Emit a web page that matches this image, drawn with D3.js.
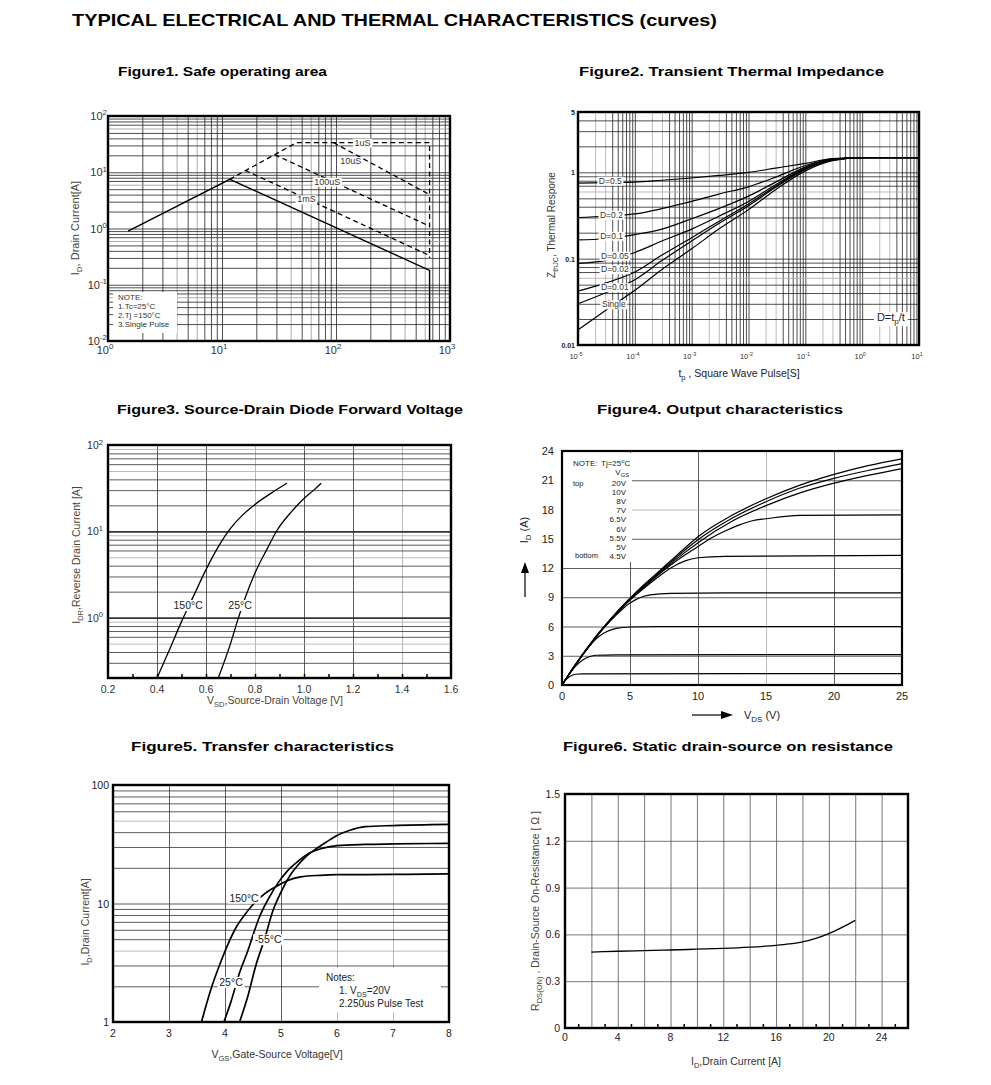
<!DOCTYPE html>
<html><head><meta charset="utf-8">
<script src="https://cdn.jsdelivr.net/npm/d3@7"></script>
<style>body{margin:0;background:#fff}</style>
</head><body>
<svg id="c" width="991" height="1085"></svg>
<script>
// ================= DATA =================
// Figure 1: Safe operating area (x: VDS [V], y: ID [A])
const f1_dc    = [[1.5,0.9],[11.7,7.5],[662,0.18],[662,0.01]];
const f1_1us   = [[11.7,7.5],[45,33.6],[662,33.6],[662,0.3]];
const f1_10us  = [[95,33.6],[662,4.0]];
const f1_100us = [[29,20.5],[662,1.1]];
const f1_1ms   = [[16,10.8],[662,0.33]];
const f1Labels = [["1uS",171,33.6],["10uS",135,15.8],["100uS",84,6.8],["1mS",55,3.3]];
const f1XTickVals = [1,10,100,1000];
const f1XTickLabels = [["10","0"],["10","1"],["10","2"],["10","3"]];
const f1YTickVals = [0.01,0.1,1,10,100];
const f1YTickLabels = [["10","-2"],["10","-1"],["10","0"],["10","1"],["10","2"]];
const f1Note = ["NOTE:"," 1.Tc=25°C"," 2.Tj =150°C"," 3.Single Pulse"];

// Figure 2: Transient thermal impedance (x: tp [s], y: Zth)
const f2_t = [1e-5,3e-5,1e-4,3e-4,1e-3,3e-3,1e-2,3e-2,0.1,0.3,1,10];
const f2_D05  = [0.75,0.76,0.77,0.81,0.86,0.92,1.0,1.12,1.27,1.44,1.48,1.48];
const f2_D02  = [0.30,0.31,0.33,0.38,0.46,0.56,0.68,0.88,1.2,1.42,1.48,1.48];
const f2_D01  = [0.165,0.17,0.19,0.22,0.29,0.38,0.53,0.77,1.15,1.41,1.48,1.48];
const f2_D005 = [0.088,0.095,0.118,0.16,0.22,0.31,0.46,0.72,1.12,1.40,1.48,1.48];
const f2_D002 = [0.042,0.052,0.07,0.11,0.175,0.27,0.43,0.69,1.1,1.39,1.48,1.48];
const f2_D001 = [0.030,0.040,0.057,0.095,0.16,0.255,0.41,0.67,1.08,1.38,1.48,1.48];
const f2_Single = [0.015,0.025,0.043,0.075,0.13,0.22,0.37,0.63,1.04,1.37,1.48,1.48];
const f2Labels = [["D=0.5",3.7e-5,0.80],["D=0.2",3.87e-5,0.322],["D=0.1",3.9e-5,0.184],["D=0.05",4.45e-5,0.108],["D=0.02",4.45e-5,0.0755],["D=0.01",4.45e-5,0.0467],["Single",4.27e-5,0.0296]];
const f2XTickVals = [1e-5,1e-4,1e-3,1e-2,1e-1,1,10];
const f2XTickLabels = [["10","-5"],["10","-4"],["10","-3"],["10","-2"],["10","-1"],["10","0"],["10","1"]];
const f2YTickVals = [0.01,0.1,1,5];
const f2YTickLabels = ["0.01","0.1","1","5"];

// Figure 3: Source-drain diode forward voltage (x: VSD [V], y: IDR [A])
const f3_150 = [[0.40,0.2],[0.45,0.42],[0.50,0.9],[0.55,1.8],[0.60,3.6],[0.65,6.6],[0.70,10.8],[0.75,15.5],[0.80,20.5],[0.86,27],[0.93,36]];
const f3_25  = [[0.65,0.2],[0.70,0.5],[0.73,0.95],[0.76,1.7],[0.80,3.3],[0.85,6.3],[0.89,10.3],[0.95,17],[1.0,24],[1.04,30],[1.07,36]];
const f3Labels = [["150°C",0.527,1.4],["25°C",0.739,1.4]];
const f3XTickVals = [0.2,0.4,0.6,0.8,1.0,1.2,1.4,1.6];
const f3XTickLabels = ["0.2","0.4","0.6","0.8","1.0","1.2","1.4","1.6"];
const f3YTickVals = [1,10,100];
const f3YTickLabels = [["10","0"],["10","1"],["10","2"]];

// Figure 4: Output characteristics (x: VDS [V], y: ID [A])
const f4_20V = [[0,0],[1,2.15],[2,4.1],[3,5.85],[4,7.45],[5,8.9],[6,10.25],[7,11.5],[8,12.75],[9,14.0],[10,15.2],[12.5,17.4],[15,19.1],[17.5,20.5],[20,21.6],[22.5,22.5],[25,23.2]];
const f4_10V = [[0,0],[1,2.1],[2,4.05],[3,5.8],[4,7.4],[5,8.85],[6,10.15],[7,11.4],[8,12.6],[9,13.8],[10,14.9],[12.5,17.1],[15,18.8],[17.5,20.2],[20,21.2],[22.5,22.0],[25,22.7]];
const f4_8V  = [[0,0],[1,2.1],[2,4.0],[3,5.75],[4,7.35],[5,8.8],[6,10.1],[7,11.3],[8,12.45],[9,13.55],[10,14.6],[12.5,16.8],[15,18.4],[17.5,19.7],[20,20.7],[22.5,21.5],[25,22.2]];
const f4_7V  = [[0,0],[1,2.1],[2,4.0],[3,5.75],[4,7.3],[5,8.75],[6,10.0],[7,11.2],[8,12.3],[9,13.3],[10,14.2],[11,15.1],[12,15.8],[13,16.4],[14,16.85],[15,17.05],[17.5,17.4],[25,17.45]];
const f4_65V = [[0,0],[1,2.1],[2,4.0],[3,5.75],[4,7.3],[5,8.7],[6,9.9],[7,11.0],[8,12.0],[9,12.7],[10,13.05],[12,13.2],[25,13.3]];
const f4_6V  = [[0,0],[1,2.1],[2,4.0],[3,5.75],[4,7.2],[5,8.4],[6,9.1],[6.5,9.25],[8,9.4],[12,9.45],[25,9.45]];
const f4_55V = [[0,0],[1,2.05],[2,3.95],[2.5,4.7],[3,5.25],[3.5,5.6],[4,5.8],[5,5.95],[7,6.0],[25,6.0]];
const f4_5V  = [[0,0],[0.5,1.05],[1,1.95],[1.5,2.55],[2,2.9],[2.5,3.05],[4,3.1],[25,3.12]];
const f4_45V = [[0,0],[0.3,0.55],[0.6,0.9],[1,1.1],[1.5,1.15],[25,1.17]];
const f4Vgs = ["20V","10V","8V","7V","6.5V","6V","5.5V","5V","4.5V"];
const f4XTickVals = [0,5,10,15,20,25];
const f4YTickVals = [0,3,6,9,12,15,18,21,24];

// Figure 5: Transfer characteristics (x: VGS [V], y: ID [A])
const f5_150 = [[3.58,1],[3.75,1.9],[3.9,3.0],[4.05,4.5],[4.2,6.3],[4.35,8.0],[4.5,9.8],[4.7,12],[4.9,13.8],[5.1,15.5],[5.35,16.8],[5.7,17.3],[6,17.5],[7,17.6],[8,17.8]];
const f5_25  = [[3.98,1],[4.1,1.45],[4.26,2.6],[4.4,3.9],[4.62,7.8],[4.8,11.5],[4.95,15],[5.1,18.5],[5.27,22],[5.5,26.5],[5.75,29.3],[6.0,30.8],[6.5,31.5],[7,31.8],[8,32.2]];
const f5_m55 = [[4.26,1],[4.4,1.6],[4.56,3.1],[4.7,4.9],[4.86,8.8],[5.0,12.5],[5.15,16.9],[5.3,21],[5.45,25],[5.63,29],[5.81,33],[6.0,37.5],[6.23,41.5],[6.5,44.5],[7,45.5],[8,46.5]];
const f5Labels = [["150°C",4.34,11.2],["-55°C",4.77,5.0],["25°C",4.107,2.18]];
const f5XTickVals = [2,3,4,5,6,7,8];
const f5YTickVals = [1,10,100];

// Figure 6: Static drain-source on resistance (x: ID [A], y: RDS(on) [ohm])
const f6_rds = [[2,0.487],[4,0.492],[6,0.496],[8,0.5],[10,0.505],[12,0.51],[14,0.518],[16,0.53],[17,0.539],[18,0.552],[19,0.574],[20,0.605],[21,0.645],[22,0.69]];
const f6XTickVals = [0,4,8,12,16,20,24];
const f6YTickVals = [0,0.3,0.6,0.9,1.2,1.5];
const f6YTickLabels = ["0","0.3","0.6","0.9","1.2","1.5"];

// ================= DRAWING =================
const FONT = "'Liberation Sans', Arial, Helvetica, sans-serif";
const svg = d3.select('#c');
svg.append('rect').attr('width',991).attr('height',1085).attr('fill','#fff');

function txt(g, x, y, parts, o={}) {
  const fs = o.fs || 11;
  const t = g.append('text').attr('x',x).attr('y',y)
    .attr('font-family',FONT).attr('font-size',fs)
    .attr('fill',o.fill||'#222').attr('text-anchor',o.anchor||'start');
  if (o.weight) t.attr('font-weight',o.weight);
  if (o.rotate) t.attr('transform',`rotate(-90,${x},${y})`);
  if (o.len) t.attr('textLength',o.len).attr('lengthAdjust','spacingAndGlyphs');
  let shift = 0;
  (Array.isArray(parts)?parts:[parts]).forEach(p=>{
    const s = typeof p==='string' ? {t:p} : p;
    const ts = t.append('tspan').text(s.t);
    let target = 0;
    if (s.sup) target = -fs*0.42; else if (s.sub) target = fs*0.28;
    if (target-shift !== 0) ts.attr('dy', target-shift);
    shift = target;
    if (s.sup||s.sub) ts.attr('font-size', fs*0.72);
  });
  return t;
}
function boxed(g, x, y, parts, o={}, pad=1.5) {
  const t = txt(g, x, y, parts, o);
  const b = t.node().getBBox();
  g.insert('rect', ()=>t.node()).attr('x',b.x-pad).attr('y',b.y+1).attr('width',b.width+2*pad).attr('height',b.height-1).attr('fill','#fff');
  return t;
}
function logGridVals(a,b){const out=[];for(let e=a;e<b;e++)for(let k=1;k<10;k++)out.push(+(k*Math.pow(10,e)).toPrecision(6));out.push(Math.pow(10,b));return out;}
function mant(d){const e=Math.floor(Math.log10(d)+1e-9);return Math.round(d/Math.pow(10,e));}

function panel(o){
  const g = svg.append('g');
  const h = o.y1-o.y0, w = o.x1-o.x0;
  const gx = g.append('g').attr('transform',`translate(0,${o.y1})`)
    .call(d3.axisBottom(o.xs).tickValues(o.vx).tickSize(-h).tickFormat(()=>''));
  gx.select('.domain').remove();
  gx.selectAll('.tick line').attr('stroke',d=>o.cx?o.cx(d):'#333').attr('stroke-width',d=>o.wx?o.wx(d):0.8);
  const gy = g.append('g').attr('transform',`translate(${o.x0},0)`)
    .call(d3.axisLeft(o.ys).tickValues(o.vy).tickSize(-w).tickFormat(()=>''));
  gy.select('.domain').remove();
  gy.selectAll('.tick line').attr('stroke',d=>o.cy?o.cy(d):'#333').attr('stroke-width',d=>o.wy?o.wy(d):0.8);
  return g;
}
function frame(g,o,sw=2.2){
  g.append('rect').attr('x',o.x0).attr('y',o.y0).attr('width',o.x1-o.x0).attr('height',o.y1-o.y0)
   .attr('fill','none').attr('stroke','#000').attr('stroke-width',sw);
}
function curve(g, xs, ys, data, o={}){
  const line = d3.line().x(d=>xs(d[0])).y(d=>ys(d[1])).curve(o.curve||d3.curveLinear);
  g.append('path').attr('d',line(data)).attr('fill','none').attr('stroke','#000')
   .attr('stroke-width',o.sw||1.3).attr('stroke-dasharray',o.dash||null);
}

// Titles
txt(svg, 72, 26, "TYPICAL ELECTRICAL AND THERMAL CHARACTERISTICS (curves)", {fs:17, weight:'bold', fill:'#000', len:645});
txt(svg, 222.5, 76, "Figure1. Safe operating area", {fs:13.5, weight:'bold', fill:'#000', anchor:'middle', len:209});
txt(svg, 731.5, 76, "Figure2. Transient Thermal Impedance", {fs:13.5, weight:'bold', fill:'#000', anchor:'middle', len:305});
txt(svg, 290, 414, "Figure3. Source-Drain Diode Forward Voltage", {fs:13.5, weight:'bold', fill:'#000', anchor:'middle', len:346});
txt(svg, 720, 414, "Figure4. Output characteristics", {fs:13.5, weight:'bold', fill:'#000', anchor:'middle', len:246});
txt(svg, 262.5, 751, "Figure5. Transfer characteristics", {fs:13.5, weight:'bold', fill:'#000', anchor:'middle', len:263});
txt(svg, 728, 751, "Figure6. Static drain-source on resistance", {fs:13.5, weight:'bold', fill:'#000', anchor:'middle', len:330});

// ---------- Figure 1 ----------
(function(){
  const o = {x0:108,x1:450,y0:116,y1:341};
  o.xs = d3.scaleLog().domain([1,1000]).range([o.x0,o.x1]);
  o.ys = d3.scaleLog().domain([0.01,100]).range([o.y1,o.y0]);
  o.vx = logGridVals(0,3); o.vy = logGridVals(-2,2);
  o.cx = d=>([4,6].includes(mant(d))?'#999':'#222');
  o.cy = d=>([6].includes(mant(d))?'#999':'#222');
  const g = panel(o);
  const {xs,ys} = o;
  curve(g,xs,ys,f1_dc,{sw:1.4});
  curve(g,xs,ys,f1_1us,{dash:'5,3.5'});
  curve(g,xs,ys,f1_10us,{dash:'5,3.5'});
  curve(g,xs,ys,f1_100us,{dash:'5,3.5'});
  curve(g,xs,ys,f1_1ms,{dash:'5,3.5'});
  f1Labels.forEach(l=>boxed(g, xs(l[1]), ys(l[2])+3, l[0], {fs:9, anchor:'middle', fill:'#333'}));
  // note
  g.append('rect').attr('x',o.x0+5).attr('y',292).attr('width',64).attr('height',41).attr('fill','#fff');
  f1Note.forEach((s,i)=>txt(g, o.x0+10, 300+i*9, s, {fs:8, fill:'#333'}));
  frame(g,o,2.4);
  f1XTickVals.forEach((v,i)=>txt(svg, xs(v)-3, 354, [f1XTickLabels[i][0],{t:f1XTickLabels[i][1],sup:1}], {fs:11, anchor:'middle', fill:'#333'}));
  f1YTickVals.forEach((v,i)=>txt(svg, 107, ys(v)+4, [f1YTickLabels[i][0],{t:f1YTickLabels[i][1],sup:1}], {fs:11, anchor:'end', fill:'#333'}));
  txt(svg, 79, 228, ['I',{t:'D',sub:1},', Drain Current[A]'], {fs:11, rotate:true, anchor:'middle', fill:'#444'});
})();

// ---------- Figure 2 ----------
(function(){
  const o = {x0:578,x1:919,y0:112,y1:345};
  o.xs = d3.scaleLog().domain([1e-5,10]).range([o.x0,o.x1]);
  o.ys = d3.scaleLog().domain([0.01,5]).range([o.y1,o.y0]);
  o.vx = logGridVals(-5,1);
  o.vy = logGridVals(-2,0).concat([2,3,4,5]);
  o.cx = d=>([2,3].includes(mant(d))?'#aaa':'#222');
  o.cy = d=>([6].includes(mant(d))?'#aaa':'#222');
  const g = panel(o);
  const {xs,ys} = o;
  [f2_D05,f2_D02,f2_D01,f2_D005,f2_D002,f2_D001,f2_Single].forEach(s=>{
    curve(g,xs,ys,f2_t.map((t,i)=>[t,s[i]]),{curve:d3.curveMonotoneX, sw:1.2});
  });
  f2Labels.forEach(l=>boxed(g, xs(l[1]), ys(l[2])+3, l[0], {fs:8.5, anchor:'middle', fill:'#333'}));
  boxed(g, xs(3.2), ys(0.021)+4, ['D=t',{t:'p',sub:1},'/t'], {fs:11, anchor:'middle', fill:'#222'}, 3);
  frame(g,o,2.4);
  f2XTickVals.forEach((v,i)=>txt(svg, xs(v)-2, 359, [f2XTickLabels[i][0],{t:f2XTickLabels[i][1],sup:1}], {fs:7.5, anchor:'middle', fill:'#333'}));
  f2YTickVals.forEach((v,i)=>txt(svg, 575, ys(v)+3, f2YTickLabels[i], {fs:7, anchor:'end', weight:'bold', fill:'#222'}));
  txt(svg, 555, 225, ['Z',{t:'thJC',sub:1},', Thermal Respone'], {fs:10, rotate:true, anchor:'middle', fill:'#333'});
  txt(svg, 739, 377, ['t',{t:'p',sub:1},' ,  Square Wave Pulse[S]'], {fs:10.5, anchor:'middle', fill:'#222'});
})();

// ---------- Figure 3 ----------
(function(){
  const o = {x0:108,x1:451,y0:445,y1:678};
  o.xs = d3.scaleLinear().domain([0.2,1.6]).range([o.x0,o.x1]);
  o.ys = d3.scaleLog().domain([0.2,100]).range([o.y1,o.y0]);
  o.vx = [0.4,0.6,0.8,1.0,1.2,1.4];
  o.vy = logGridVals(-1,2).filter(v=>v>=0.2);
  o.cx = d=>([0.8,1.4].includes(+d.toFixed(1))?'#aaa':'#333');
  o.cy = d=>([5,9].includes(mant(d))?'#aaa':'#333');
  o.wy = d=>([1,10].includes(d)?1.6:0.8);
  const g = panel(o);
  const {xs,ys} = o;
  // minor ticks on bottom axis
  g.append('g').attr('transform',`translate(0,${o.y1})`)
    .call(d3.axisTop(xs).tickValues(d3.range(3,16).map(v=>v/10)).tickSize(4).tickFormat(()=>''))
    .call(s=>s.select('.domain').remove())
    .selectAll('line').attr('stroke','#000').attr('stroke-width',1.5);
  curve(g,xs,ys,f3_150,{curve:d3.curveMonotoneX});
  curve(g,xs,ys,f3_25,{curve:d3.curveMonotoneX});
  f3Labels.forEach(l=>boxed(g, xs(l[1]), ys(l[2])+4, l[0], {fs:10.5, anchor:'middle', fill:'#222'}));
  frame(g,o,2.4);
  f3XTickVals.forEach((v,i)=>txt(svg, xs(v), 693, f3XTickLabels[i], {fs:10.5, anchor:'middle', fill:'#333'}));
  f3YTickVals.forEach((v,i)=>txt(svg, 103, ys(v)+4, [f3YTickLabels[i][0],{t:f3YTickLabels[i][1],sup:1}], {fs:10.5, anchor:'end', fill:'#333'}));
  txt(svg, 80, 555, ['I',{t:'DR',sub:1},',Reverse Drain Current  [A]'], {fs:10.5, rotate:true, anchor:'middle', fill:'#4a4636'});
  txt(svg, 275, 704, ['V',{t:'SD',sub:1},',Source-Drain Voltage  [V]'], {fs:10.5, anchor:'middle', fill:'#4a4636'});
})();

// ---------- Figure 4 ----------
(function(){
  const o = {x0:562,x1:902,y0:451,y1:685};
  o.xs = d3.scaleLinear().domain([0,25]).range([o.x0,o.x1]);
  o.ys = d3.scaleLinear().domain([0,24]).range([o.y1,o.y0]);
  o.vx = [5,10,15,20];
  o.vy = [3,6,9,12,15,18,21];
  o.cx = d=>(d===15?'#aaa':'#333');
  o.cy = d=>(d===18?'#aaa':'#333');
  const g = panel(o);
  const {xs,ys} = o;
  [f4_20V,f4_10V,f4_8V,f4_7V,f4_65V,f4_6V,f4_55V,f4_5V,f4_45V].forEach(s=>curve(g,xs,ys,s,{curve:d3.curveMonotoneX, sw:1.2}));
  // note
  g.append('rect').attr('x',o.x0+1).attr('y',o.y0+2).attr('width',69).attr('height',109).attr('fill','#fff');
  txt(g, 573, 466, 'NOTE:', {fs:8, fill:'#222'});
  txt(g, 601, 466, ['Tj=25',{t:'o',sup:1},'C'], {fs:8, fill:'#222'});
  txt(g, 629, 475, ['V',{t:'GS',sub:1}], {fs:8, anchor:'end', fill:'#222'});
  txt(g, 573, 486, 'top', {fs:7.5, fill:'#222'});
  txt(g, 575, 558, 'bottom', {fs:7.5, fill:'#222'});
  f4Vgs.forEach((s,i)=>txt(g, 626, 486+i*9.1, s, {fs:8, anchor:'end', fill:'#222'}));
  frame(g,o,2.2);
  f4XTickVals.forEach(v=>txt(svg, xs(v), 700, String(v), {fs:11, anchor:'middle', fill:'#222'}));
  f4YTickVals.forEach(v=>txt(svg, 554, ys(v)+4, String(v), {fs:11, anchor:'end', fill:'#222'}));
  txt(svg, 528, 530, ['I',{t:'D',sub:1},' (A)'], {fs:11, rotate:true, anchor:'middle', fill:'#222'});
  // arrows
  svg.append('line').attr('x1',525).attr('y1',597).attr('x2',525).attr('y2',572).attr('stroke','#000').attr('stroke-width',1.2);
  svg.append('path').attr('d','M521,573 L525,562 L529,573 Z').attr('fill','#000');
  svg.append('line').attr('x1',692).attr('y1',715).attr('x2',722).attr('y2',715).attr('stroke','#000').attr('stroke-width',1.2);
  svg.append('path').attr('d','M721,711 L733,715 L721,719 Z').attr('fill','#000');
  txt(svg, 744, 719, ['V',{t:'DS',sub:1},' (V)'], {fs:11, fill:'#222'});
})();

// ---------- Figure 5 ----------
(function(){
  const o = {x0:113,x1:449,y0:785,y1:1022};
  o.xs = d3.scaleLinear().domain([2,8]).range([o.x0,o.x1]);
  o.ys = d3.scaleLog().domain([1,100]).range([o.y1,o.y0]);
  o.vx = [3,4,5,6,7];
  o.vy = logGridVals(0,2).filter(v=>v>1&&v<100);
  o.cx = d=>([6,7].includes(d)?'#aaa':'#333');
  o.cy = d=>([4,50].includes(d)?'#aaa':'#333');
  const g = panel(o);
  const {xs,ys} = o;
  curve(g,xs,ys,f5_150,{curve:d3.curveMonotoneX, sw:1.7});
  curve(g,xs,ys,f5_25,{curve:d3.curveMonotoneX, sw:1.7});
  curve(g,xs,ys,f5_m55,{curve:d3.curveMonotoneX, sw:1.7});
  f5Labels.forEach(l=>boxed(g, xs(l[1]), ys(l[2])+4, l[0], {fs:10.5, anchor:'middle', fill:'#222'}));
  g.append('rect').attr('x',319).attr('y',968).attr('width',122).attr('height',44).attr('fill','#fff');
  txt(g, 326, 981, 'Notes:', {fs:10, fill:'#222'});
  txt(g, 339, 994, ['1. V',{t:'DS',sub:1},'=20V'], {fs:10, fill:'#222'});
  txt(g, 339, 1007, '2.250us Pulse Test', {fs:10, fill:'#222'});
  frame(g,o,2.4);
  f5XTickVals.forEach(v=>txt(svg, xs(v), 1037, String(v), {fs:10.5, anchor:'middle', fill:'#222'}));
  f5YTickVals.forEach(v=>txt(svg, 109, ys(v)+4, String(v), {fs:10.5, anchor:'end', fill:'#222'}));
  txt(svg, 89, 922, ['I',{t:'D',sub:1},',Drain Current[A]'], {fs:10.5, rotate:true, anchor:'middle', fill:'#4a4636'});
  txt(svg, 277, 1058, ['V',{t:'GS',sub:1},',Gate-Source Voltage[V]'], {fs:10.5, anchor:'middle', fill:'#333'});
})();

// ---------- Figure 6 ----------
(function(){
  const o = {x0:565,x1:908,y0:794,y1:1028};
  o.xs = d3.scaleLinear().domain([0,26]).range([o.x0,o.x1]);
  o.ys = d3.scaleLinear().domain([0,1.5]).range([o.y1,o.y0]);
  o.vx = d3.range(2,25,2);
  o.vy = [0.3,0.6,0.9,1.2];
  o.cx = ()=>'#555'; o.cy = ()=>'#555';
  const g = panel(o);
  const {xs,ys} = o;
  g.append('g').attr('transform',`translate(0,${o.y1})`)
    .call(d3.axisTop(xs).tickValues(d3.range(1,26,2)).tickSize(4).tickFormat(()=>''))
    .call(s=>s.select('.domain').remove())
    .selectAll('line').attr('stroke','#000').attr('stroke-width',1.5);
  curve(g,xs,ys,f6_rds,{curve:d3.curveMonotoneX, sw:1.3});
  frame(g,o,2.4);
  f6XTickVals.forEach(v=>txt(svg, xs(v), 1041, String(v), {fs:10.5, anchor:'middle', fill:'#222'}));
  f6YTickVals.forEach((v,i)=>txt(svg, 560, ys(v)+4, f6YTickLabels[i], {fs:10.5, anchor:'end', fill:'#222'}));
  txt(svg, 539, 911, ['R',{t:'DS(ON)',sub:1},' , Drain-Source On-Resistance [ Ω ]'], {fs:10.5, rotate:true, anchor:'middle', fill:'#4a4636'});
  txt(svg, 736, 1065, ['I',{t:'D',sub:1},',Drain Current [A]'], {fs:10.5, anchor:'middle', fill:'#333'});
})();
</script>
</body></html>
